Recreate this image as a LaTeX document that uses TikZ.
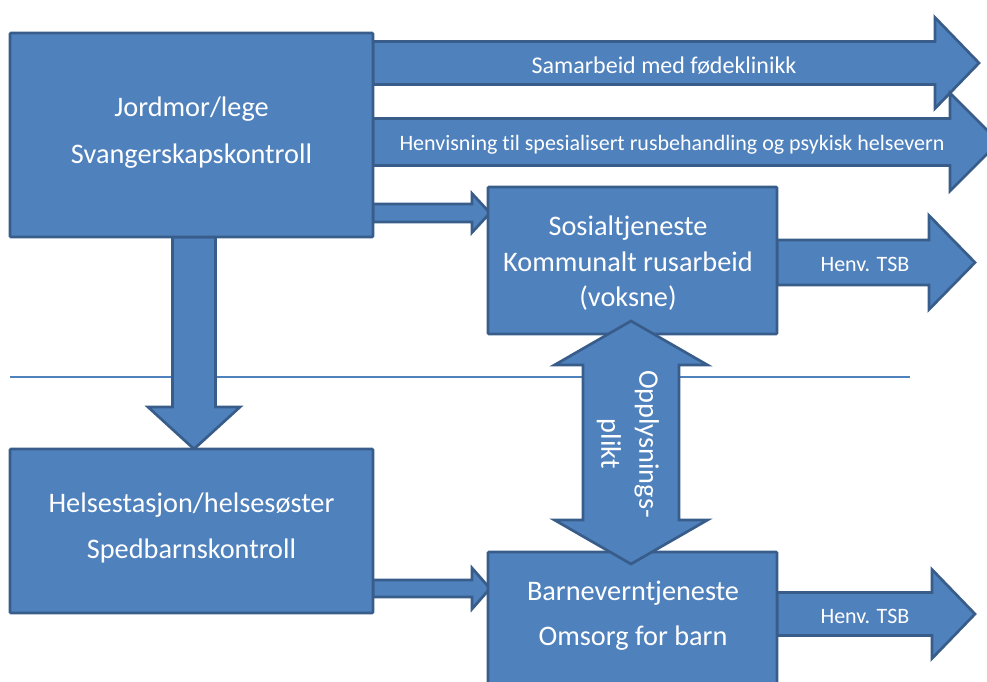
\documentclass[tikz,border=0pt]{standalone}
\usepackage{fontspec}
\setmainfont{Carlito}[Ligatures={NoCommon}]
\usetikzlibrary{calc,backgrounds}
\definecolor{fillc}{HTML}{4F81BD}
\definecolor{bdr}{HTML}{385D8A}
% right-pointing block arrow: #1 start, #2 tip, #3 shaft half, #4 head half, #5 head length
\newcommand{\rightblock}[5]{%
  \path[blk] let \p1=(#1), \p2=(#2) in
    (\x1,\y2+#3pt) -- (\x2-#5pt,\y2+#3pt) -- (\x2-#5pt,\y2+#4pt) -- (\p2)
    -- (\x2-#5pt,\y2-#4pt) -- (\x2-#5pt,\y2-#3pt) -- (\x1,\y2-#3pt) -- cycle;}
\begin{document}
\begin{tikzpicture}[x=1pt,y=-1pt,
  box/.style={draw=bdr, fill=fillc, line width=2.7pt, rounded corners=1pt, inner sep=0pt, outer sep=0pt},
  blk/.style={draw=bdr, fill=fillc, line width=2.7pt, line join=miter},
  sepline/.style={draw=fillc, line width=1.5pt},
  txt/.style={text=white, inner sep=0pt, anchor=base},
  big/.style={font=\fontsize{28.3}{34}\selectfont},
  lbl/.style={font=\fontsize{22}{26}\selectfont}]
\useasboundingbox (0,0) rectangle (987,682);
\clip (0,0) rectangle (987,682);

% boxes
\node[box, minimum width=363pt, minimum height=204pt] (jm) at (191.5,135) {};
\node[box, minimum width=363pt, minimum height=164pt] (hs) at (191.5,531) {};
\node[box, minimum width=289pt, minimum height=147pt] (st) at (632.5,260.5) {};
\node[box, minimum width=289pt, minimum height=160pt] (bv) at (632.5,632) {};

% free ends
\coordinate (t1) at (979,63);
\coordinate (t2) at (999,142);
\coordinate (t3) at (490,213);
\coordinate (t4) at (490,588.5);
\coordinate (t5) at (975,262.5);
\coordinate (t6) at (975,614);
\coordinate (ot) at (631,321);
\coordinate (ob) at (631,564);
\coordinate (l1) at (10,377);
\coordinate (l2) at (910,377);

\begin{scope}[on background layer]
  \draw[sepline] (l1) -- (l2);
  \rightblock{jm.east}{t1}{21.5}{45.5}{44}
  \rightblock{jm.east}{t2}{23.5}{49}{49}
  \rightblock{jm.east}{t3}{9}{19.5}{18}
  \rightblock{hs.east}{t4}{8.5}{20.5}{18}
  \rightblock{st.east}{t5}{22.5}{47}{46}
  \rightblock{bv.east}{t6}{21.5}{44.5}{43}
  % down arrow jm -> hs
  \path[blk] let \p1=(jm.south), \p2=($(hs.north)+(2.5,0)$) in
    (\x2-21.5pt,\y1) -- (\x2-21.5pt,\y2+42pt) -- (\x2-46pt,\y2+42pt) -- (\p2)
    -- (\x2+46pt,\y2+42pt) -- (\x2+21.5pt,\y2+42pt) -- (\x2+21.5pt,\y1) -- cycle;
\end{scope}

% double arrow st <-> bv
\path[blk] let \p1=(ot), \p2=(ob) in
  (\p1) -- (\x1+76.5pt,\y1-44pt) -- (\x1+48pt,\y1-44pt) -- (\x1+48pt,\y2+44pt)
  -- (\x1+76.5pt,\y2+44pt) -- (\p2) -- (\x1-76.5pt,\y2+44pt) -- (\x1-48pt,\y2+44pt)
  -- (\x1-48pt,\y1-44pt) -- (\x1-76.5pt,\y1-44pt) -- cycle;

% texts
\node[txt,big] (jm1) at (191.5,117) {Jordmor/lege};
\node[txt,big] (jm2) at (191.5,163) {Svangerskapskontroll};
\node[txt,big] (hs1) at (191.5,512) {Helsestasjon/helsesøster};
\node[txt,big] (hs2) at (191.5,558) {Spedbarnskontroll};
\node[txt,big] (st1) at (628,235) {Sosialtjeneste};
\node[txt,big] (st2) at (628,271) {Kommunalt rusarbeid};
\node[txt,big] (st3) at (628,306) {(voksne)};
\node[txt,big] (bv1) at (633,600) {Barneverntjeneste};
\node[txt,big] (bv2) at (633,645) {Omsorg for barn};
\node[txt,font=\fontsize{24}{28}\selectfont] (a1) at (664,74) {Samarbeid med fødeklinikk};
\node[txt,lbl] (a2) at (672,150) {Henvisning til spesialisert rusbehandling og psykisk helsevern};
\node[txt,lbl] (a5) at (865,271) {Henv. TSB};
\node[txt,lbl] (a6) at (865,623) {Henv. TSB};
\node[text=white, inner sep=0pt, rotate=-90, align=center,
      font=\fontsize{28.3}{38}\selectfont] (op) at (628,444) {Opplysnings-\\plikt};
\end{tikzpicture}
\end{document}
